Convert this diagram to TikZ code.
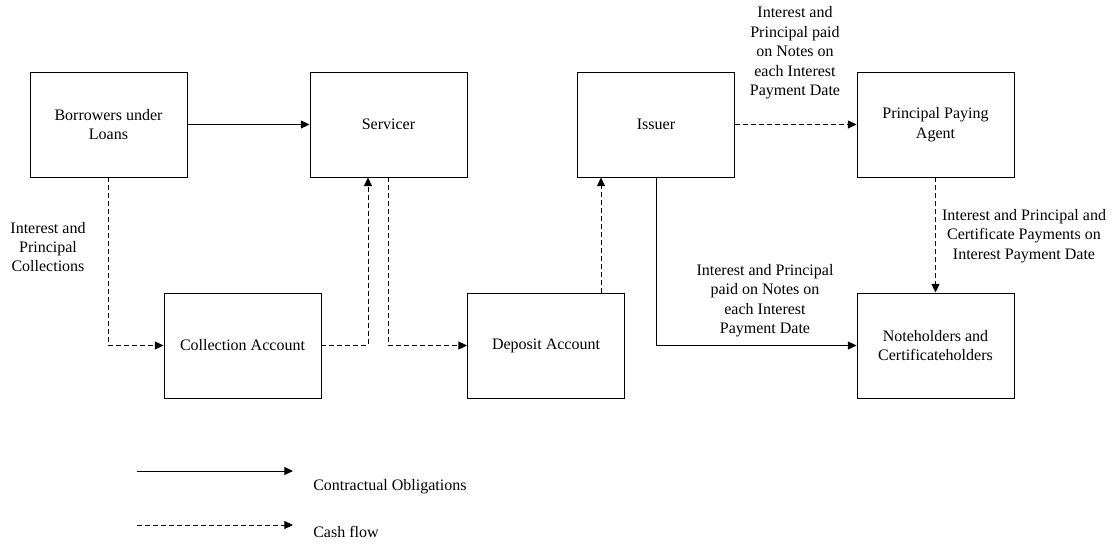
\documentclass[tikz,border=0pt]{standalone}
\usepackage{fontspec}
\setmainfont{Liberation Serif}
\usetikzlibrary{arrows.meta}

\begin{document}
\begin{tikzpicture}[
  x=0.75pt,y=-0.75pt,
  every node/.style={font=\fontsize{12}{14.6}\selectfont,align=center},
  box/.style={draw,line width=0.7pt,minimum width=117.75pt,minimum height=78.75pt},
  obl/.style={-{Triangle[length=6.5pt,width=6pt]},line width=0.7pt},
  cash/.style={obl,dash pattern=on 3.5pt off 2.5pt}
]
\useasboundingbox (0,0) rectangle (1118,545);
% parties
\node[box] (borrow) at (108.5,124.5) {Borrowers under\\Loans};
\node[box] (serv) at (388.5,124.5) {Servicer};
\node[box] (issuer) at (656,124.5) {Issuer};
\node[box] (ppa) at (935.5,124.5) {Principal Paying\\Agent};
\node[box] (coll) at (242.5,345.5) {Collection Account};
\node[box] (dep) at (546,345.5) {Deposit Account};
\node[box] (holders) at (935.5,345.5) {Noteholders and\\Certificateholders};
% flows
\draw[obl] (borrow) -- (serv);
\draw[cash] (borrow.south) |- (coll.west);
\draw[cash] (coll.east) -| ([xshift=-15.4pt]serv.south);
\draw[cash] (serv.south) |- (dep.west);
\draw[cash] ([xshift=41.25pt]dep.north) -- ([xshift=41.25pt]dep.north |- issuer.south);
\draw[obl] (issuer.south) |- (holders.west);
\draw[cash] (issuer) -- (ppa);
\draw[cash] (ppa) -- (holders);
% labels
\node (lblcoll) at (48,247) {Interest and\\Principal\\Collections};
\node (lbltop) at (795,53) {Interest and\\Principal paid\\on Notes on\\each Interest\\Payment Date};
\node (lblmid) at (765,300.5) {Interest and Principal\\paid on Notes on\\each Interest\\Payment Date};
\node (lblppa) at (1024,236) {Interest and Principal and\\Certificate Payments on\\Interest Payment Date};
% legend
\coordinate (oblA) at (137,471);
\coordinate (oblB) at (293,471);
\draw[obl] (oblA) -- (oblB);
\node[anchor=base west,inner sep=0pt] (oblTxt) at (313,490) {Contractual Obligations};
\coordinate (cashA) at (137,525);
\coordinate (cashB) at (293,525);
\draw[cash] (cashA) -- (cashB);
\node[anchor=base west,inner sep=0pt] (cashTxt) at (313,537) {Cash flow};
\end{tikzpicture}
\end{document}
